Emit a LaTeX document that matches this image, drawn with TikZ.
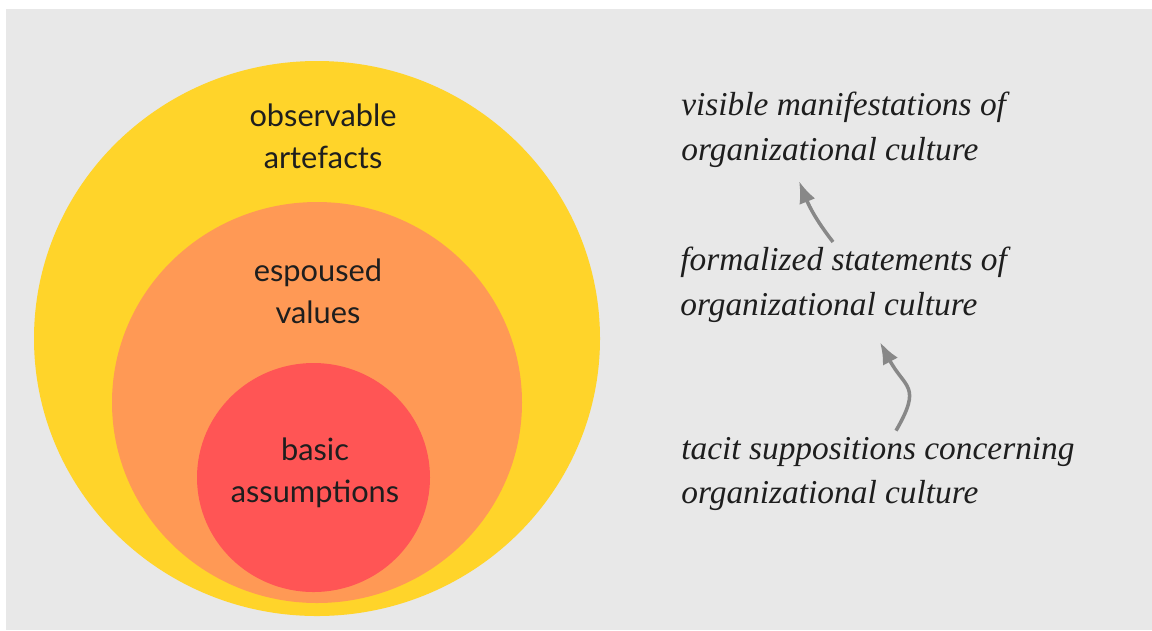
\documentclass[tikz,border=0pt]{standalone}
\usepackage{fontspec}
\setmainfont{Lato}
\newfontfamily\notefont{Liberation Serif}
\usetikzlibrary{arrows.meta}

\definecolor{fond}{HTML}{E8E8E8}
\definecolor{jaune}{HTML}{FFD42A}
\definecolor{saumon}{HTML}{FF9955}
\definecolor{rouge}{HTML}{FF5555}
\definecolor{encre}{HTML}{1E1E1E}
\definecolor{gris}{HTML}{888888}

\begin{document}
\begin{tikzpicture}[
		niveau/.style={font=\fontsize{17.5}{24}\selectfont, align=center, text=encre},
		note/.style={font=\notefont\itshape\fontsize{19}{25.5}\selectfont, align=left, anchor=west, inner sep=0pt, text=encre},
		fleche/.style={-{Latex[length=0.44cm,width=0.34cm]}, line width=2pt, draw=gris}
	]
			
			% Cadre gris
			\useasboundingbox (0,0) rectangle (23.04,-12.6);
			\fill[fond] (0.12,-0.18) rectangle (23.04,-12.6);
			
			% Trois cercles emboîtés
			\fill[jaune]  (6.34,-6.77) ellipse (5.66 and 5.55);
			\fill[saumon] (6.34,-8.05) ellipse (4.1 and 4.01);
			\fill[rouge]  (6.27,-9.55) ellipse (2.33 and 2.29);
			
			% Noms des niveaux
			\node[niveau] (artefacts) at (6.46,-2.72) {observable\\artefacts};
			\node[niveau] (valeurs) at (6.36,-5.82) {espoused\\values};
			\node[niveau] (hypotheses) at (6.30,-9.46) {basic\\assumptions};
			
			% Descriptions à droite
			\node[note] (visible) at (13.62,-2.60) {visible manifestations of\\organizational culture};
			\node[note] (formel) at (13.60,-5.70) {formalized statements of\\organizational culture};
			\node[note] (tacite) at (13.62,-9.48) {tacit suppositions concerning\\organizational culture};
			
			% Flèches grises
			\draw[fleche] ([xshift=3.06cm,yshift=0.10cm]formel.north west) to[out=128,in=-68] ([xshift=2.36cm,yshift=-0.26cm]visible.south west);
			\draw[fleche] ([xshift=4.3cm,yshift=0.12cm]tacite.north west) to[out=60,in=-62,looseness=1.5] ([xshift=4.0cm,yshift=-0.38cm]formel.south west);
			
		\end{tikzpicture}
\end{document}
